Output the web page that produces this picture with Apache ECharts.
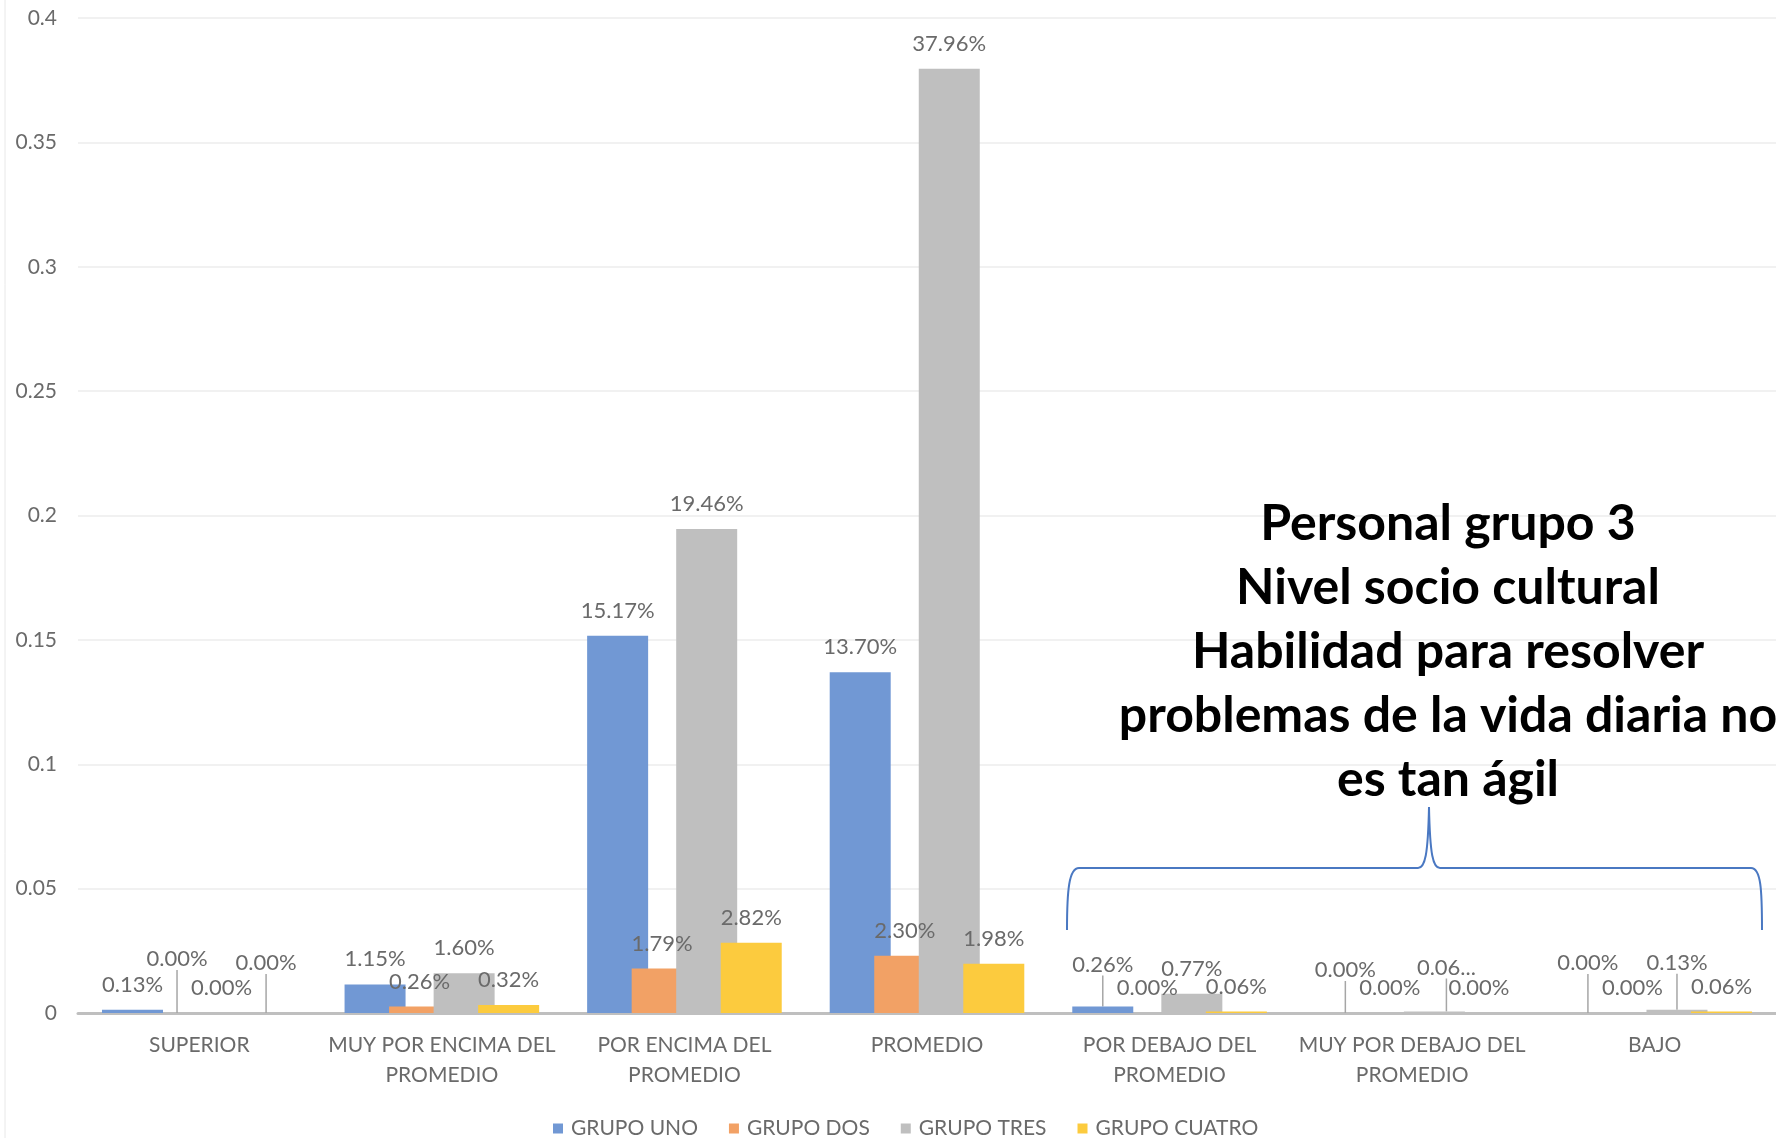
<!DOCTYPE html>
<html><head><meta charset="utf-8">
<script src="https://cdn.jsdelivr.net/npm/echarts@6/dist/echarts.min.js"></script>
<style>html,body{margin:0;padding:0;background:#fff}#c{width:1776px;height:1138px}</style>
</head><body><div id="c"></div>
<script>
// ---- data ----
const categories = ['SUPERIOR', 'MUY POR ENCIMA DEL PROMEDIO', 'POR ENCIMA DEL PROMEDIO', 'PROMEDIO',
  'POR DEBAJO DEL PROMEDIO', 'MUY POR DEBAJO DEL PROMEDIO', 'BAJO'];
const seriesNames = ['GRUPO UNO', 'GRUPO DOS', 'GRUPO TRES', 'GRUPO CUATRO'];
const grupoUno    = [0.0013, 0.0115, 0.1517, 0.1370, 0.0026, 0.0000, 0.0000];
const grupoDos    = [0.0000, 0.0026, 0.0179, 0.0230, 0.0000, 0.0000, 0.0000];
const grupoTres   = [0.0000, 0.0160, 0.1946, 0.3796, 0.0077, 0.0006, 0.0013];
const grupoCuatro = [0.0000, 0.0032, 0.0282, 0.0198, 0.0006, 0.0000, 0.0006];
const yMin = 0, yMax = 0.4, yInterval = 0.05;
const annotationLines = ['Personal grupo 3', 'Nivel socio cultural', 'Habilidad para resolver',
  'problemas de la vida diaria no', 'es tan ágil'];

// ---- label placement (Excel-like callouts for tiny bars) ----
const labelShift = {
  '1-0': {dx: 0, dy: -29},
  '3-0': {dx: 0, dy: -25},
  '0-4': {dx: 0, dy: -17},
  '0-5': {dx: 0, dy: -18},
  '2-5': {dx: 12, dy: -19},
  '0-6': {dx: 0, dy: -25},
  '2-6': {dx: 0, dy: -22}
};
const truncatedLabels = {'2-5': true};

const colors = ['#7198D4', '#F2A165', '#BFBFBF', '#FCCB3E'];
const values = [grupoUno, grupoDos, grupoTres, grupoCuatro];
const FONT = 'Lato';
const GREY = '#6a6a6a';

const series = seriesNames.map((name, si) => ({
  name: name,
  type: 'bar',
  barWidth: 61,
  barGap: '-27%',
  itemStyle: {color: colors[si]},
  label: {
    show: true, position: 'top', distance: 14,
    fontFamily: FONT, fontSize: 22, color: GREY,
    formatter: p => {
      let t = (p.value * 100).toFixed(2) + '%';
      if (truncatedLabels[si + '-' + p.dataIndex]) t = t.slice(0, 4) + '...';
      return t;
    }
  },
  labelLine: {show: false, lineStyle: {color: '#a6a6a6', width: 1.5}},
  data: values[si].map((v, di) => labelShift[si + '-' + di]
    ? {value: v, labelLine: {show: true, lineStyle: {color: '#a6a6a6', width: 1.5}}}
    : v)
}));

const braceStyle = {stroke: '#4a78c2', lineWidth: 2, fill: null};
const chart = echarts.init(document.getElementById('c'), null, {renderer: 'canvas'});
chart.setOption({
  backgroundColor: '#fff',
  animation: false,
  color: colors,
  grid: {left: 78, right: 0, top: 18, bottom: 125, containLabel: false},
  legend: {
    data: seriesNames, left: 548, top: 1113,
    itemWidth: 10, itemHeight: 10, itemGap: 31, icon: 'rect',
    textStyle: {fontFamily: FONT, fontSize: 21, color: GREY, padding: [0, 0, 0, 3]}
  },
  xAxis: {
    type: 'category', data: categories,
    axisLine: {lineStyle: {color: '#bfbfbf', width: 3}},
    axisTick: {show: false},
    axisLabel: {
      interval: 0, margin: 17, fontFamily: FONT, fontSize: 21, color: GREY, lineHeight: 30,
      formatter: v => v.replace(' PROMEDIO', '\nPROMEDIO')
    }
  },
  yAxis: {
    type: 'value', min: yMin, max: yMax, interval: yInterval,
    axisLine: {show: false}, axisTick: {show: false},
    axisLabel: {margin: 21, fontFamily: FONT, fontSize: 21, color: GREY},
    splitLine: {lineStyle: {color: '#ececec', width: 1.5}}
  },
  labelLayout: p => {
    const s = labelShift[p.seriesIndex + '-' + p.dataIndex];
    return s ? {dx: s.dx, dy: s.dy} : {};
  },
  series: series,
  graphic: [
    {type: 'line', shape: {x1: 5, y1: 0, x2: 5, y2: 1138}, style: {stroke: '#e8e8e8', lineWidth: 1}, silent: true},
    {type: 'bezierCurve', silent: true, z: 100, style: braceStyle,
      shape: {x1: 1067, y1: 930, cpx1: 1067, cpy1: 890, cpx2: 1069, cpy2: 868, x2: 1079, y2: 868}},
    {type: 'line', silent: true, z: 100, style: braceStyle, shape: {x1: 1079, y1: 868, x2: 1418, y2: 868}},
    {type: 'bezierCurve', silent: true, z: 100, style: braceStyle,
      shape: {x1: 1418, y1: 868, cpx1: 1425, cpy1: 868, cpx2: 1428, cpy2: 855, x2: 1429, y2: 807}},
    {type: 'bezierCurve', silent: true, z: 100, style: braceStyle,
      shape: {x1: 1429, y1: 807, cpx1: 1430, cpy1: 855, cpx2: 1433, cpy2: 868, x2: 1440, y2: 868}},
    {type: 'line', silent: true, z: 100, style: braceStyle, shape: {x1: 1440, y1: 868, x2: 1751, y2: 868}},
    {type: 'bezierCurve', silent: true, z: 100, style: braceStyle,
      shape: {x1: 1751, y1: 868, cpx1: 1761, cpy1: 868, cpx2: 1762, cpy2: 890, x2: 1762, y2: 930}},
    {
      type: 'text', x: 1448, y: 492, silent: true, z: 100,
      style: {
        text: annotationLines.join('\n'), align: 'center', verticalAlign: 'top',
        fontFamily: FONT, fontWeight: 'bold', fontSize: 50, lineHeight: 64, fill: '#000'
      }
    }
  ]
});
</script></body></html>
